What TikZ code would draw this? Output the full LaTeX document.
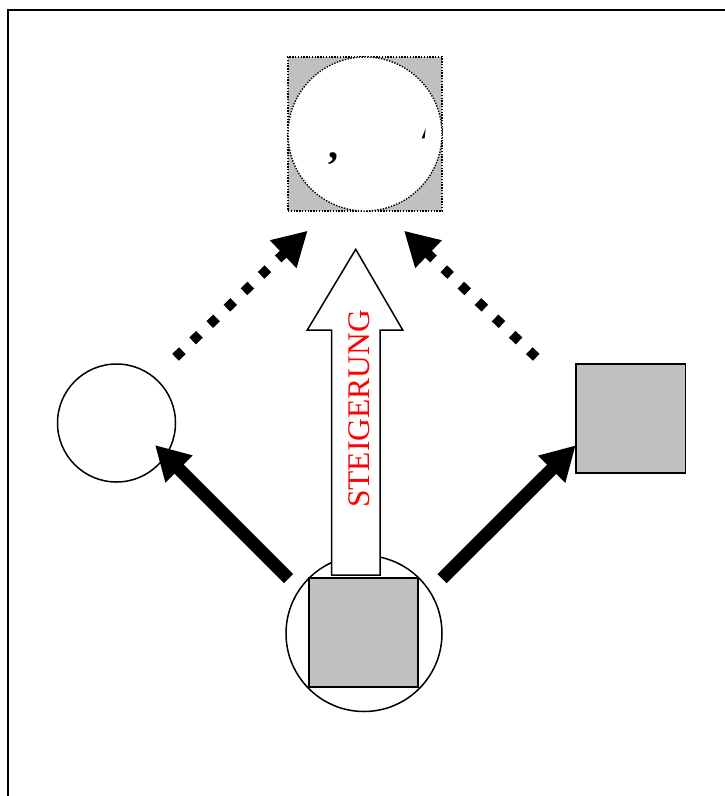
\documentclass[tikz,border=0pt]{standalone}
\usepackage{fontspec}
\setmainfont{Liberation Serif}
\usetikzlibrary{arrows.meta}
\definecolor{boxgray}{HTML}{C0C0C0}
\tikzset{
  shapeline/.style={draw=black, line width=1.5pt},
  graybox/.style={shapeline, fill=boxgray, rectangle, inner sep=0pt},
  whitecirc/.style={shapeline, fill=white, circle, inner sep=0pt},
  dotline/.style={draw=black, line width=1.4pt, dash pattern=on 1.4pt off 1.4pt},
  solidarrow/.style={draw=black, line width=13pt, line cap=butt,
     -{Triangle[length=34pt,width=36pt]}},
  dotarrow/.style={draw=black, line width=9.5pt, line cap=butt,
     dash pattern=on 9.5pt off 14.2pt, -{Triangle[length=34pt,width=36pt]}},
}
\begin{document}
\begin{tikzpicture}[x=1pt,y=-1pt]
\useasboundingbox (0,0) rectangle (725,796);
% frame
\draw[line width=2pt] (7.5,10) rectangle (760,830);
% top element
\node[rectangle, fill=boxgray, dotline, minimum width=154pt, minimum height=154pt, inner sep=0pt] (topsq) at (365,134) {};
\node[circle, fill=white, dotline, minimum size=154pt, inner sep=0pt] (topcirc) at (365,134) {};
\node[anchor=base, inner sep=0pt, font=\fontsize{40}{40}\selectfont\bfseries] (comma) at (333.5,158) {,};
\fill (425.7,128.3) -- (421.7,138.3) -- (424.6,138.3) -- cycle;
% left circle
\node[whitecirc, minimum size=118pt] (lcirc) at (116.5,423) {};
% right square
\node[graybox, minimum width=109.5pt, minimum height=109pt] (rsq) at (630.8,418.5) {};
% bottom circle and square
\node[whitecirc, minimum size=156pt] (bcirc) at (364,633.5) {};
\node[graybox, minimum width=109pt, minimum height=108.7pt] (bsq) at (363.5,632.4) {};
% big arrow
\draw[shapeline, fill=white, line join=miter] (331.7,575) -- (331.7,330) -- (307.3,330) -- (355.7,249.3) -- (402.7,330) -- (380,330) -- (380,575) -- cycle;
\node[rotate=90, inner sep=0pt, text=red, font=\fontsize{31.5}{31.5}\selectfont] (steig) at (359.7,409) {STEIGERUNG};
% connectors
\coordinate (lsTail) at (288.5,578.5);
\coordinate (lsTip) at (155,445);
\coordinate (rsTail) at (442,578.7);
\coordinate (rsTip) at (575.7,445.3);
\coordinate (ldTail) at (175.5,357.3);
\coordinate (ldTip) at (307.7,230.7);
\coordinate (rdTail) at (536.2,357.3);
\coordinate (rdTip) at (404,230.7);
\draw[solidarrow] (lsTail) -- (lsTip);
\draw[solidarrow] (rsTail) -- (rsTip);
\draw[dotarrow] (ldTail) -- (ldTip);
\draw[dotarrow] (rdTail) -- (rdTip);
\end{tikzpicture}
\end{document}
